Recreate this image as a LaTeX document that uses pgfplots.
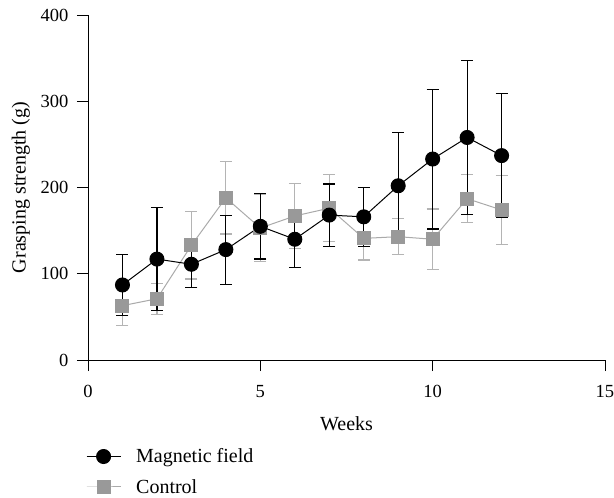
\documentclass[border=0pt]{standalone}
\usepackage{pgfplots}
\pgfplotsset{compat=1.18}
\usepackage{pgfplotstable}
\usepackage{fontspec}
\setmainfont{Liberation Serif}
\definecolor{ctrlfill}{HTML}{999999}
\definecolor{ctrlline}{HTML}{AAAAAA}
\definecolor{ctrlerr}{HTML}{B4B4B4}

% week, mean, error
\pgfplotstableread{
x y e
1 87 35
2 117 60
3 111 27
4 128 40
5 155 38
6 140 33
7 168 36
8 166 34
9 202 62
10 233 81
11 258 89
12 237 72
}\magnetic

\pgfplotstableread{
x y e
1 63 23
2 71 18
3 133 39
4 188 42
5 153 39
6 167 38
7 176 39
8 141 25
9 143 21
10 140 35
11 187 28
12 174 40
}\control

\begin{document}
\begin{tikzpicture}
\useasboundingbox (-88pt,-138pt) rectangle (526pt,360pt);
\begin{axis}[
    scale only axis,
    width=517pt, height=345pt,
    xmin=0, xmax=15, ymin=0, ymax=400,
    xtick={0,5,10,15}, ytick={0,100,200,300,400},
    axis lines*=left,
    tick align=outside,
    major tick length=11pt,
    tick style={black, line width=0.8pt},
    axis line style={line width=0.8pt},
    font=\fontsize{20}{24}\selectfont,
    tick label style={font=\fontsize{18.5}{22}\selectfont},
    /pgf/number format/assume math mode=true,
    xticklabel style={yshift=-11pt},
    yticklabel style={xshift=-5pt},
    xlabel={Weeks},
    ylabel={Grasping strength (g)},
    xlabel style={yshift=-12pt},
    ylabel style={yshift=4pt},
    legend cell align=left,
    legend style={at={(-0.01,-0.245)}, anchor=north west, draw=none, fill=none,
        font=\fontsize{20}{24}\selectfont, row sep=11pt, column sep=13pt},
    legend image code/.code={
        \draw[mark repeat=2, mark phase=2, #1] plot coordinates {(0cm,0cm) (0.6cm,0cm) (1.2cm,0cm)};
    },
    reverse legend,
]
\addplot[ctrlline, line width=1pt, mark=square*,
    mark options={fill=ctrlfill, draw=ctrlfill, line width=0pt}, mark size=6.5pt,
    error bars/.cd, y dir=both, y explicit,
    error bar style={ctrlerr, line width=1.2pt},
    error mark options={rotate=90, ctrlerr, mark size=6pt, line width=1.2pt}]
    table[x=x, y=y, y error=e] {\control};
\addlegendentry{Control}
\addplot[black, line width=1pt, mark=*, mark options={fill=black}, mark size=7pt,
    error bars/.cd, y dir=both, y explicit,
    error bar style={black, line width=1.2pt},
    error mark options={rotate=90, black, mark size=6pt, line width=1.2pt}]
    table[x=x, y=y, y error=e] {\magnetic};
\addlegendentry{Magnetic field}
\end{axis}
\end{tikzpicture}
\end{document}
